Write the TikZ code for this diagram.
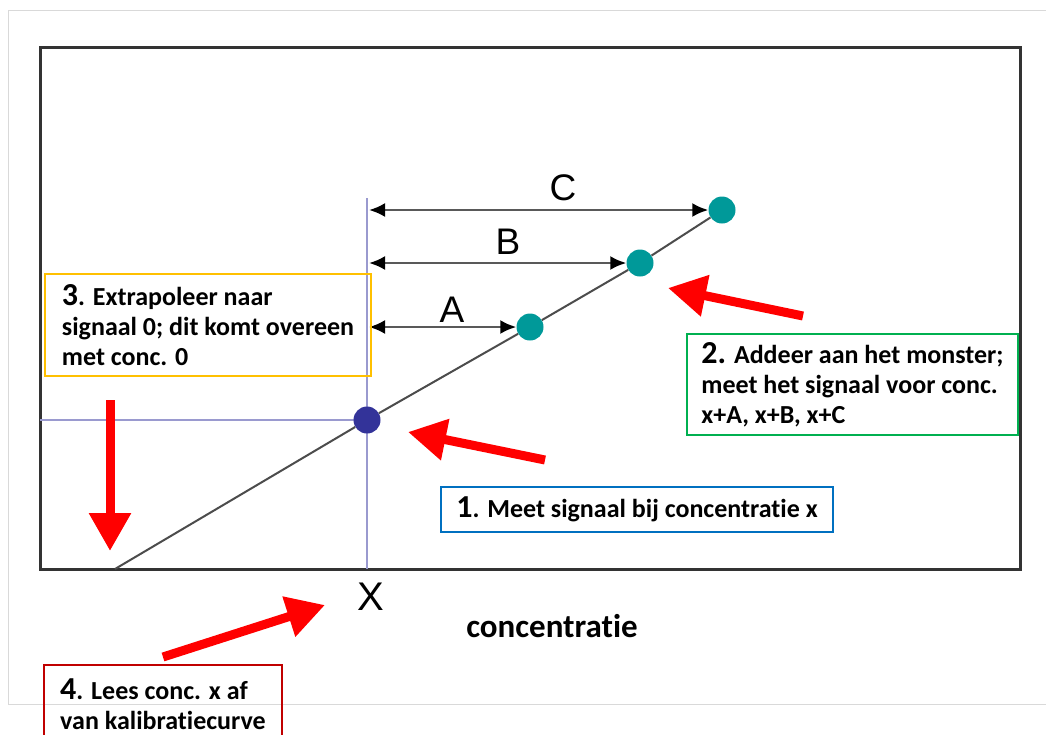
\documentclass[tikz,border=0pt]{standalone}
\usepackage{fontspec}
\setmainfont{Carlito}[Ligatures=NoCommon]
\newfontfamily\arialfont{Liberation Sans}
\usetikzlibrary{arrows.meta,positioning}
\definecolor{framegray}{HTML}{333333}
\definecolor{guideblue}{HTML}{9A9ACF}
\definecolor{navy}{HTML}{333399}
\definecolor{tealdot}{HTML}{009999}
\definecolor{boxorange}{HTML}{FFC000}
\definecolor{boxgreen}{HTML}{00B050}
\definecolor{boxblue}{HTML}{0070C0}
\definecolor{boxred}{HTML}{C00000}
\definecolor{arrowred}{HTML}{FF0000}
\newcommand{\bignum}[1]{{\fontsize{32}{30}\selectfont #1}}
\tikzset{
  stepbox/.style={draw,line width=2pt,align=left,inner sep=0pt,anchor=north west,
    font=\fontsize{26}{30}\selectfont\bfseries},
  dot/.style={circle,inner sep=0pt,minimum size=27pt},
  letter/.style={font=\arialfont\fontsize{37}{37}\selectfont},
  dim/.style={{Latex[length=16pt,width=14pt,black]}-{Latex[length=16pt,width=14pt,black]},
    line width=2.5pt,draw=black!65},
  bigarrow/.style={-{Triangle[length=38pt,width=40pt]},line width=9pt,draw=arrowred},
}
\begin{document}
\begin{tikzpicture}[x=1pt,y=-1pt]
   \useasboundingbox (0,0) rectangle (1046,734);
   \draw [line width=1pt,black!15] (1046,10) -- (8,10) -- (8,704) -- (1046,704);
   \draw [line width=3pt,framegray] (40,47) rectangle (1020,569);

   \coordinate (zero) at (115,569);
   \coordinate (vtop) at (367,198);
   \coordinate (vbot) at (367,569);
   \coordinate (hleft) at (40,420);
   \coordinate (hright) at (367,420);
   \draw [line width=2pt,guideblue] (vtop) -- (vbot);
   \draw [line width=2pt,guideblue] (hleft) -- (hright);

   \node[dot,fill=navy] (px) at (367,420) {};
   \node[dot,fill=tealdot] (pa) at (530,327) {};
   \node[dot,fill=tealdot] (pb) at (640,263) {};
   \node[dot,fill=tealdot] (pc) at (722,210) {};
   \draw [line width=2pt,black!70] (zero) -- (px) -- (pa) -- (pb) -- (pc);

   \coordinate (aL) at (369,327);
   \coordinate (bL) at (369,263);
   \coordinate (cL) at (369,210);
   \draw [dim] (aL) -- (pa);
   \draw [dim] (bL) -- (pb);
   \draw [dim] (cL) -- (pc);
   \node[letter] (la) at (452,310) {A};
   \node[letter] (lb) at (508,242) {B};
   \node[letter] (lc) at (563,188) {C};

   \node[letter,font=\arialfont\fontsize{40}{40}\selectfont] (xl) at (371,597) {X};
   \node[font=\fontsize{33}{30}\selectfont\bfseries] (conc) at (552,626) {concentratie};

   \node[stepbox,draw=boxorange,minimum width=326pt,minimum height=102pt] (s3) at (44,273)
     {\bignum{3}. Extrapoleer naar\\signaal 0; dit komt overeen\\met conc. 0};
   \node[stepbox,draw=boxgreen,minimum width=331pt,minimum height=101pt] (s2) at (686,333)
     {\bignum{2.} Addeer aan het monster;\\meet het signaal voor conc.\\x+A, x+B, x+C};
   \node[stepbox,draw=boxblue,minimum width=392pt,minimum height=45pt] (s1) at (440,486)
     {\bignum{1}. Meet signaal bij concentratie x};
   \node[stepbox,draw=boxred,minimum width=238pt,minimum height=78pt] (s4) at (43,664)
     {\bignum{4}. Lees conc. x af\\van kalibratiecurve};

   \coordinate (t2) at (803,316);
   \coordinate (h2) at (668,288);
   \coordinate (t1) at (545,460);
   \coordinate (h1) at (408,432);
   \coordinate (t3) at (110,400);
   \coordinate (h3) at (110,551);
   \coordinate (t4) at (163,657);
   \coordinate (h4) at (325,605);
   \draw [bigarrow] (t2) -- (h2);
   \draw [bigarrow] (t1) -- (h1);
   \draw [bigarrow] (t3) -- (h3);
   \draw [bigarrow] (t4) -- (h4);
\end{tikzpicture}
\end{document}
